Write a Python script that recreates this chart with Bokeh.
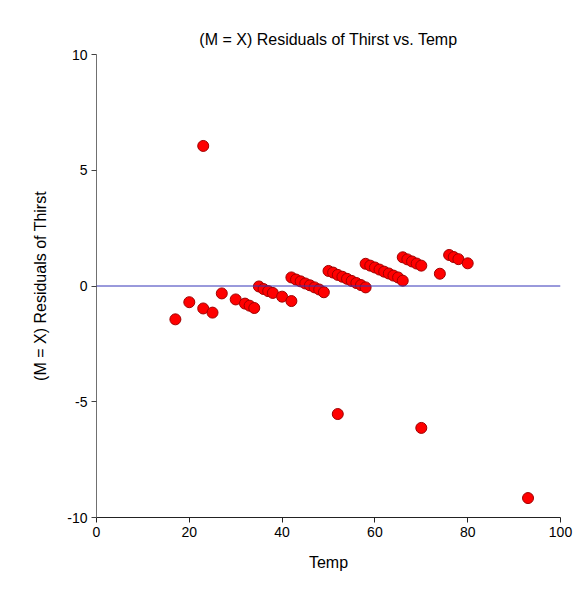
import re
from bokeh.plotting import figure
from bokeh.models import Range1d, FixedTicker, Span, ColumnDataSource
from bokeh.embed import file_html
from bokeh.resources import INLINE

# Data
temp = [17, 20, 23, 23, 25, 27, 30, 32, 33, 34,
        35, 36, 37, 38, 40, 42,
        42, 43, 44, 45, 46, 47, 48, 49,
        50, 51, 52, 53, 54, 55, 56, 57, 58, 52,
        58, 59, 60, 61, 62, 63, 64, 65, 66,
        66, 67, 68, 69, 70, 70,
        74, 76, 77, 78, 80, 93]
residual = [-1.44, -0.70, 6.05, -0.97, -1.15, -0.32, -0.58, -0.76, -0.85, -0.95,
            -0.02, -0.13, -0.22, -0.30, -0.46, -0.65,
            0.37, 0.28, 0.20, 0.11, 0.03, -0.06, -0.15, -0.27,
            0.65, 0.58, 0.48, 0.40, 0.31, 0.22, 0.13, 0.04, -0.06, -5.53,
            0.96, 0.88, 0.80, 0.71, 0.62, 0.54, 0.45, 0.37, 0.23,
            1.24, 1.15, 1.06, 0.97, 0.88, -6.13,
            0.53, 1.34, 1.25, 1.16, 0.98, -9.16]
x_ticks = [0, 20, 40, 60, 80, 100]
y_ticks = [-10, -5, 0, 5, 10]
y_tick_labels = {-10: "-10", -5: "-5", 0: "0", 5: "5", 10: "10"}
zero_level = 0

FONT = "Liberation Sans"

p = figure(width=572, height=581, output_backend="svg", toolbar_location=None,
           x_range=Range1d(0, 100), y_range=Range1d(-10, 10),
           title="(M = X) Residuals of Thirst vs. Temp",
           min_border_left=83, min_border_right=25,
           min_border_top=45, min_border_bottom=73)
p.margin = (9, 0, 0, 13)
p.background_fill_color = "white"
p.border_fill_color = "white"
p.outline_line_color = None
p.xgrid.visible = False
p.ygrid.visible = False

p.title.text_font = FONT
p.title.text_font_size = "16px"
p.title.text_font_style = "normal"
p.title.text_color = "black"
p.title.align = "center"
p.title.standoff = 13

for ax, ticks in ((p.xaxis[0], x_ticks), (p.yaxis[0], y_ticks)):
    ax.ticker = FixedTicker(ticks=ticks)
    ax.minor_tick_line_color = None
    ax.major_tick_in = 0
    ax.major_tick_out = 5
    ax.major_label_text_font = FONT
    ax.major_label_text_font_size = "14px"
    ax.major_label_text_color = "black"
    ax.axis_label_text_font = FONT
    ax.axis_label_text_font_size = "16px"
    ax.axis_label_text_font_style = "normal"
    ax.axis_label_text_color = "black"

p.yaxis.major_label_overrides = y_tick_labels
p.xaxis.axis_label = "Temp"
p.yaxis.axis_label = "(M = X) Residuals of Thirst"
p.xaxis.axis_line_color = "#222222"
p.xaxis.major_tick_line_color = "#222222"
p.yaxis.axis_line_color = "#707070"
p.yaxis.major_tick_line_color = "#404040"
p.xaxis.major_label_standoff = 4
p.yaxis.major_label_standoff = 4
p.xaxis.axis_label_standoff = 14
p.yaxis.axis_label_standoff = 15

p.add_layout(Span(location=zero_level, dimension="width",
                  line_color="#3434b8", line_width=1))

src = ColumnDataSource(dict(x=temp, y=residual))
p.scatter("x", "y", source=src, size=11, fill_color="#ff0000",
          line_color="#a00000", line_width=1)

html = file_html(p, INLINE)
html = re.sub(r"<body([^>]*)>", r'<body\1 style="background:#f5f5f5;">', html, count=1)
open("out.html", "w").write(html)
